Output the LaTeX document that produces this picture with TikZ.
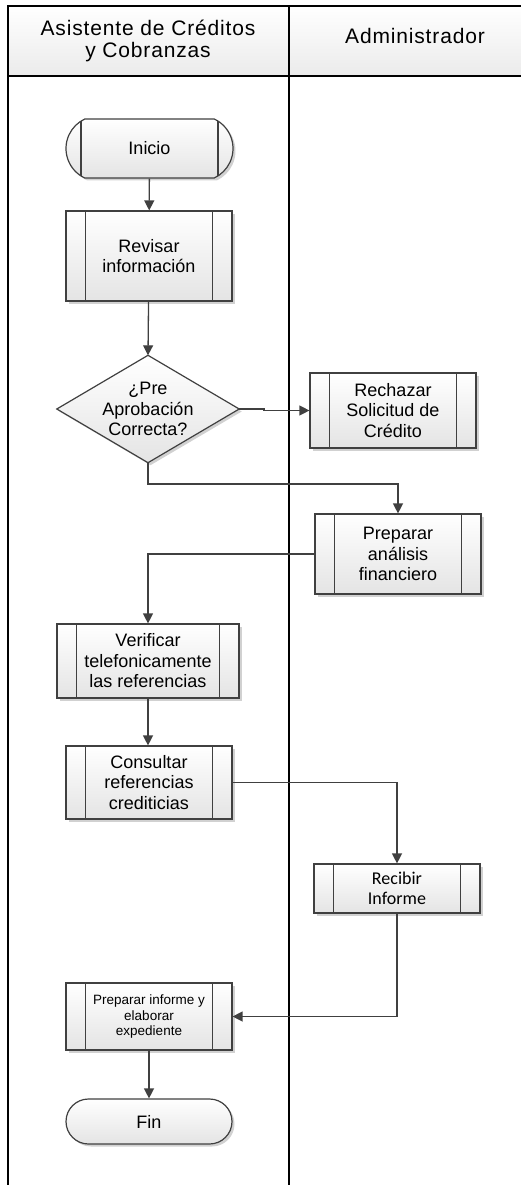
\documentclass[tikz,border=0pt]{standalone}
\usepackage{fontspec}
\setmainfont{Liberation Sans}
\newfontfamily\headfont[LetterSpace=4]{Liberation Sans}
\newfontfamily\calfont{Carlito}
\usetikzlibrary{arrows.meta,shapes.misc,shadows}
\pgfdeclarelayer{bg}
\pgfsetlayers{bg,main}

\definecolor{boxline}{HTML}{404040}
\definecolor{linec}{HTML}{404040}
\definecolor{boxlow}{HTML}{E4E4E4}

\tikzset{
  lane/.style={line width=1.6pt, draw=black},
  flow/.style={line width=1.3pt, draw=linec, -{Triangle[width=10pt,length=10pt]}},
  shapefill/.style={draw=boxline, line width=1.2pt, top color=white, bottom color=boxlow,
    drop shadow={shadow xshift=2.5pt, shadow yshift=-2.5pt, fill=black, opacity=0.18}},
  txt/.style={text=black, align=center, font=\fontsize{18}{20.5}\selectfont},
  sidebars/.style={path picture={
      \draw[boxline, line width=1.2pt]
        ([xshift=19.5pt]path picture bounding box.north west) -- ([xshift=19.5pt]path picture bounding box.south west)
        ([xshift=-19.5pt]path picture bounding box.north east) -- ([xshift=-19.5pt]path picture bounding box.south east);}},
  proc/.style={shapefill, txt, sidebars, rectangle, inner sep=0pt},
  term/.style={shapefill, txt, rounded rectangle, inner sep=0pt},
  headtxt/.style={text=black, align=center, font=\headfont\fontsize{21}{22.5}\selectfont},
}

\begin{document}
\begin{tikzpicture}[x=1pt, y=-1pt]
  \useasboundingbox (0,0) rectangle (521,1185);

  % swimlane header and lane borders
  \shade[top color=white, bottom color=black!8] (8,6) rectangle (521,76);
  \draw[lane] (521,6) -- (8,6) -- (8,1185);
  \draw[lane] (289,6) -- (289,1185);
  \draw[lane] (8,76) -- (521,76);
  \node[headtxt] (lane1) at (148,41) {Asistente de Créditos\\y Cobranzas};
  \node[headtxt] (lane2) at (415,35.5) {Administrador};

  % process steps
  \node[term, sidebars, rounded rectangle arc length=130, minimum width=167, minimum height=59] (inicio) at (149.5,148.5) {Inicio};
  \node[proc, minimum width=166, minimum height=90] (revisar) at (149,256) {Revisar\\información};
  \node[txt, inner sep=0pt, minimum width=182, minimum height=107] (dec) at (148,409) {¿Pre\\Aprobación\\Correcta?};
  \node[proc, minimum width=166, minimum height=75] (rechazar) at (393,410.5) {Rechazar\\Solicitud de\\Crédito};
  \node[proc, minimum width=166, minimum height=80] (preparar) at (398,554) {Preparar\\análisis\\financiero};
  \node[proc, minimum width=182, minimum height=74] (verificar) at (148,661) {Verificar\\telefonicamente\\las referencias};
  \node[proc, minimum width=166, minimum height=73] (consultar) at (149,782.5) {Consultar\\referencias\\crediticias};
  \node[proc, minimum width=166, minimum height=49, font=\calfont\fontsize{18}{20}\selectfont] (recibir) at (397,888.5) {Recibir\\Informe};
  \node[proc, minimum width=166, minimum height=67, font=\fontsize{13.5}{15.7}\selectfont] (informe) at (149,1016.5) {Preparar informe y\\elaborar\\expediente};
  \node[term, minimum width=166, minimum height=45] (fin) at (149,1121.5) {Fin};

  % decision diamond behind its label
  \begin{pgfonlayer}{bg}
    \path[shapefill] (dec.north) -- (dec.east) -- (dec.south) -- (dec.west) -- cycle;
  \end{pgfonlayer}

  % bend points
  \coordinate (j1) at (264,409);
  \coordinate (k1) at (148,484);

  % connectors
  \draw[flow] (inicio) -- (revisar);
  \draw[flow] (revisar) -- (dec.north);
  \draw[flow] (dec.east) -- (j1) |- (rechazar.west);
  \draw[flow] (dec.south) -- (k1) -| (preparar.north);
  \draw[flow] (preparar.west) -| (verificar.north);
  \draw[flow] (verificar) -- (consultar.north -| verificar.south);
  \draw[flow] (consultar.east) -| (recibir.north);
  \draw[flow] (recibir.south) |- (informe.east);
  \draw[flow] (informe) -- (fin);
\end{tikzpicture}
\end{document}
